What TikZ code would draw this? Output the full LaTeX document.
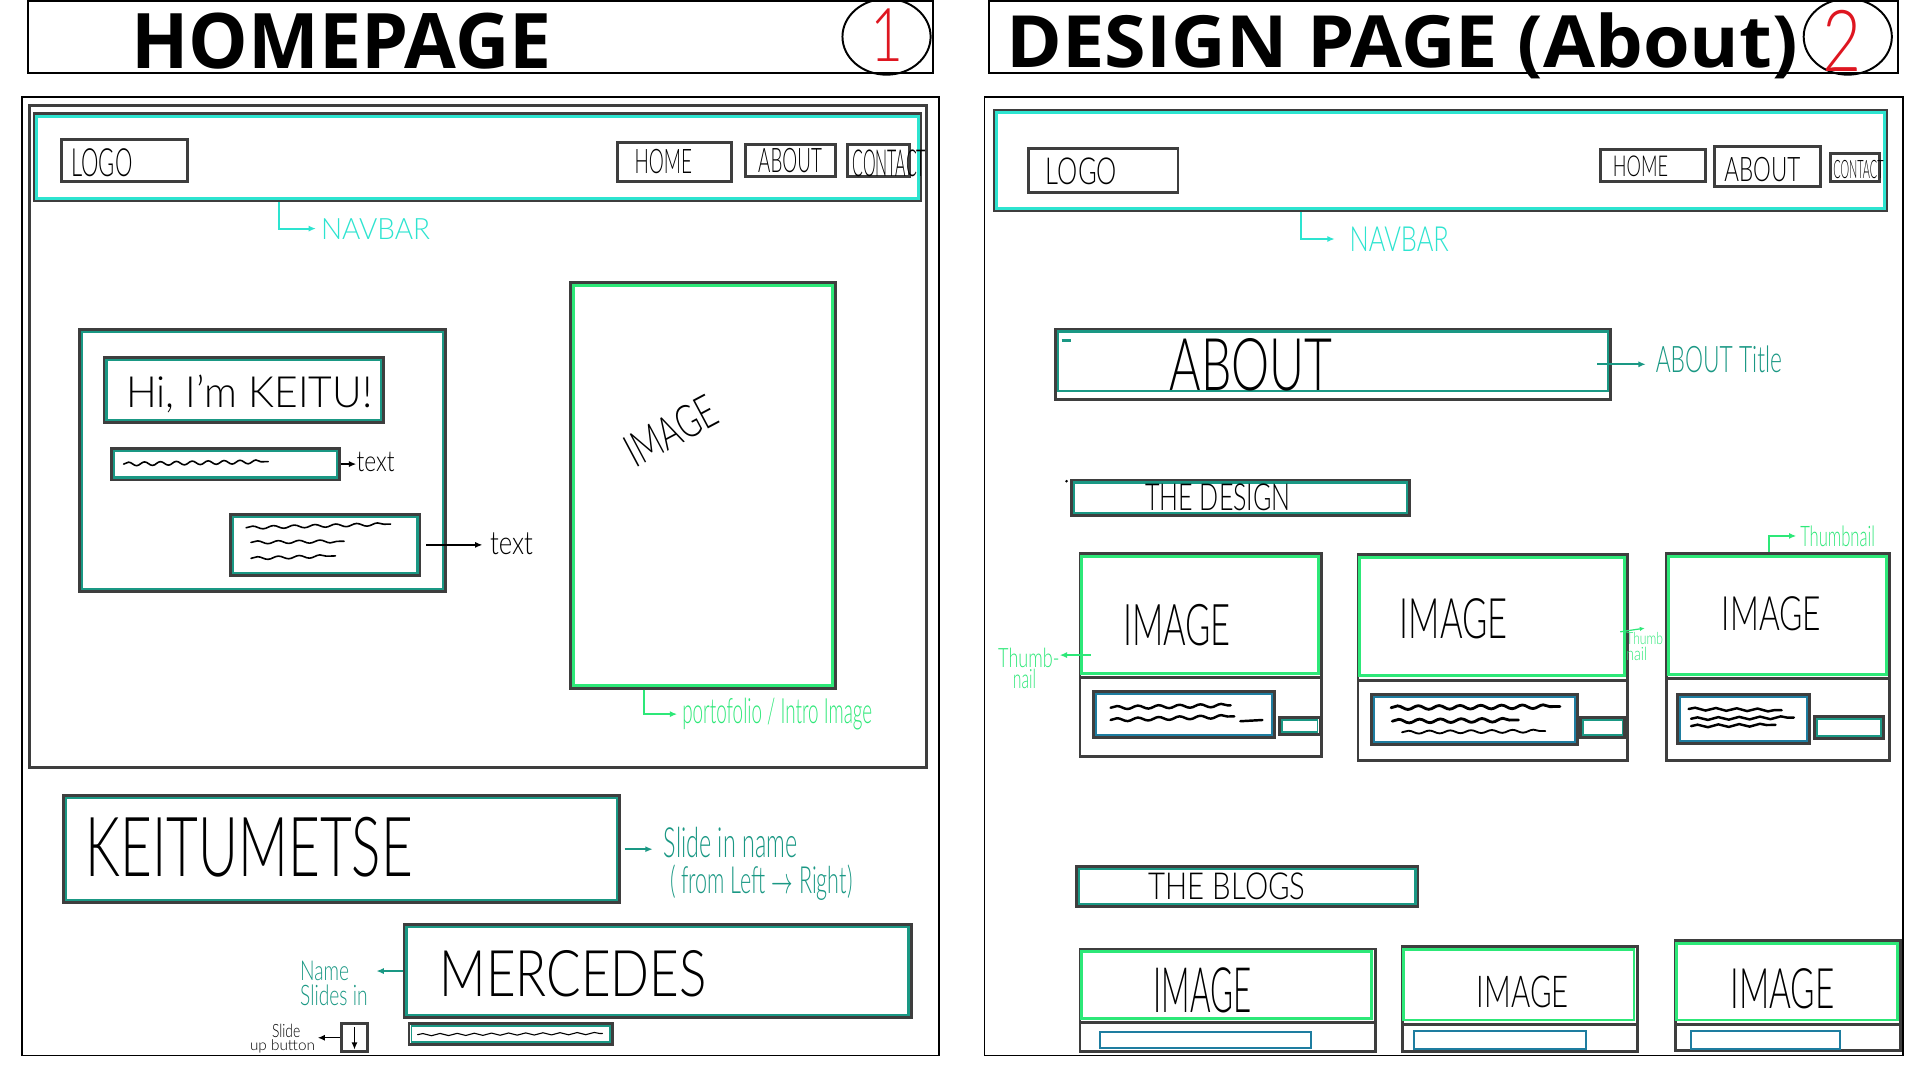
\documentclass[tikz,border=0pt]{standalone}
\usepackage{fontspec}
\usepackage{graphicx}
\usetikzlibrary{fit,shapes.geometric,arrows.meta,decorations.pathmorphing}

\newfontfamily\titlef{Open Sans}
\IfFontExistsTF{Lato Light}{\newfontfamily\hand{Lato Light}}{\newfontfamily\hand{Lato}}

\definecolor{frame}{RGB}{62,62,62}
\definecolor{cyanl}{RGB}{45,228,208}
\definecolor{tealc}{RGB}{26,152,132}
\definecolor{greenc}{RGB}{45,232,120}
\definecolor{bluec}{RGB}{30,125,160}
\definecolor{redc}{RGB}{222,22,32}

% text squeezed into a given width and total height
\newcommand\fitbox[3]{\resizebox*{#1pt}{#2pt}{#3}}
\newcommand\imgword{\hand IMAGE}

\tikzset{
  gbox/.style={draw=frame, line width=2.4pt, inner sep=0pt},
  kbox/.style={draw=black, line width=1.6pt, inner sep=0pt},
  txt/.style={inner sep=0pt, anchor=north west},
  inner line/.style={line width=1.8pt},
  karrow/.style={draw=black, line width=1.5pt, -{Latex[length=6pt,width=5pt]}},
  tarrow/.style={draw=tealc, line width=1.6pt, -{Latex[length=6pt,width=5pt]}},
  carrow/.style={draw=cyanl, line width=1.6pt, -{Latex[length=6pt,width=5pt]}},
  garrow/.style={draw=greenc, line width=1.6pt, -{Latex[length=6pt,width=5pt]}},
  scribble/.style={draw=black, line cap=round, decorate,
    decoration={snake, amplitude=#1pt, segment length=17pt}},
}

% framed box: grey outline with a coloured line just inside
\newcommand\wbox[6]{%
  \node[gbox, fit={(#2,#3)(#4,#5)}] (#1) {};
  \draw[inner line, #6] ([shift={(3.2,3.2)}]#1.north west) rectangle ([shift={(-3.2,-3.2)}]#1.south east);}

% thumbnail card: grey outline, green image area on top, divider below it
\newcommand\thumbcard[6]{%
  \node[gbox, fit={(#2,#3)(#4,#5)}] (#1) {};
  \draw[greenc, line width=2.4pt] ([shift={(2.6,3.6)}]#1.north west) rectangle (#4-2.6,#6);
  \draw[frame, line width=2.4pt] (#2,#6+3.4) -- (#4,#6+3.4);}

\begin{document}
\begin{tikzpicture}[x=1pt,y=-1pt]
\useasboundingbox[fill=white] (0,0) rectangle (1568,882);

%% ---------------- page 1 : homepage ----------------
\node[kbox, fit={(23,1)(762,60)}] (title1) {};
\node[txt] (title1txt) at (107,10) {\fitbox{343}{46}{\titlef\bfseries HOMEPAGE}};
\node[kbox, ellipse, minimum width=72pt, minimum height=62pt] (num1) at (724,30) {};
\node[txt, text=redc] (num1txt) at (711,7) {\fitbox{27}{43}{\hand 1}};

\node[kbox, fit={(18,79)(767,862)}] (page1) {};
\node[gbox, fit={(24,86)(757,627)}] (hero1) {};

% navigation bar
\wbox{nav1}{28}{93}{752}{164}{cyanl, line width=2.4pt}
\node[gbox, fit={(50,114)(153,148)}] (logo1) {};
\node[txt] (logo1txt) at (58,121) {\fitbox{50}{23}{\hand LOGO}};
\node[gbox, fit={(504,116)(597,148)}] (home1) {};
\node[txt] (home1txt) at (518,122) {\fitbox{47}{20}{\hand HOME}};
\node[gbox, fit={(609,118)(682,144)}] (about1) {};
\node[txt] (about1txt) at (619,121) {\fitbox{52}{20}{\hand ABOUT}};
\node[gbox, fit={(692,118)(743,144)}] (contact1) {};
\node[txt] (contact1txt) at (696,122) {\fitbox{60}{22}{\hand CONTACT}};
\node[txt, text=cyanl] (navl1) at (262,178) {\fitbox{89}{17}{\hand NAVBAR}};
\draw[carrow] ([xshift=201pt]nav1.south west) |- ([xshift=-4pt]navl1.west);

% intro block
\wbox{intro}{65}{269}{364}{483}{tealc}
\wbox{hi}{85}{292}{313}{345}{tealc}
\node[txt] (hitxt) at (103,306) {\fitbox{201}{31}{\hand Hi, I’m KEITU!}};
\wbox{bar1}{91}{366}{277}{392}{tealc}
\draw[scribble=1.5, line width=1.3pt, decoration={segment length=13pt}] (101,379) -- (219,377);
\node[txt] (text1) at (291,369) {\fitbox{31}{16}{\hand text}};
\draw[karrow] (bar1.east) -- (bar1.east -| text1.west);
\wbox{para1}{188}{420}{343}{470}{tealc}
\draw[scribble=1.2, line width=1.3pt] (201,431) -- (319,428);
\draw[scribble=1.2, line width=1.3pt] (205,443) -- (281,442);
\draw[scribble=1.2, line width=1.3pt] (205,456) -- (274,454);
\node[txt] (text2) at (400,435) {\fitbox{35}{18}{\hand text}};
\draw[karrow, line width=2pt] ([xshift=4pt]para1.east) -- ([xshift=-6pt]para1.east -| text2.west);

% intro image
\wbox{img1}{466}{231}{682}{562}{greenc, line width=2.4pt}
\node[inner sep=0pt, rotate=28] (img1txt) at (548,352) {\fitbox{80}{27}{\imgword}};
\node[txt, text=greenc] (portf) at (557,570) {\fitbox{155}{26}{\hand portofolio / Intro Image}};
\draw[garrow] ([xshift=61pt]img1.south west) |- ([xshift=-4pt]portf.west);

% sliding names
\wbox{keit}{52}{650}{506}{737}{tealc}
\node[txt] (keittxt) at (70,667) {\fitbox{267}{49}{\hand KEITUMETSE}};
\node[txt, text=tealc] (slideA) at (542,675) {\fitbox{109}{25}{\hand Slide in name}};
\node[txt, text=tealc] (slideB) at (547,706) {\fitbox{149}{29}{\hand ( from Left $\rightarrow$ Right)}};
\draw[tarrow] ([xshift=3pt]keit.east) -- ([xshift=-9pt]keit.east -| slideA.west);

\wbox{merc}{330}{755}{744}{831}{tealc}
\node[txt] (merctxt) at (359,776) {\fitbox{218}{38}{\hand MERCEDES}};
\node[txt, text=tealc] (nameA) at (245,785) {\fitbox{40}{16}{\hand Name}};
\node[txt, text=tealc] (nameB) at (245,804) {\fitbox{55}{17}{\hand Slides in}};
\draw[tarrow] (merc.west) -- ([xshift=7pt]merc.west -| nameB.east);

\wbox{bar2}{334}{836}{500}{853}{tealc, line width=1.4pt}
\draw[scribble=0.9, line width=0.9pt, decoration={segment length=14pt}] (341,845) -- (492,844);

\node[gbox, fit={(279,836)(300,859)}] (upbtn) {};
\draw[karrow, line width=1.2pt] ([yshift=-4pt]upbtn.north) -- ([yshift=3pt]upbtn.south);
\node[txt] (upA) at (222,836) {\fitbox{23}{11}{\hand Slide}};
\node[txt] (upB) at (204,849) {\fitbox{53}{11}{\hand up button}};
\draw[karrow, line width=1.2pt] (upbtn.west) -- ([xshift=2pt]upbtn.west -| upB.east);

%% ---------------- page 2 : design page ----------------
\node[kbox, fit={(808,1)(1550,60)}] (title2) {};
\node[txt] (title2txt) at (822,10) {\fitbox{646}{54}{\titlef\bfseries DESIGN PAGE (About)}};
\node[kbox, ellipse, minimum width=72pt, minimum height=62pt] (num2) at (1509,30) {};
\node[txt, text=redc] (num2txt) at (1488,8) {\fitbox{32}{50}{\hand 2}};

\node[kbox, fit={(804,79)(1554,862)}] (page2) {};

% navigation bar
\wbox{nav2}{812}{90}{1541}{172}{cyanl, line width=2.4pt}
\node[gbox, fit={(840,121)(962,157)}] (logo2) {};
\node[txt] (logo2txt) at (854,129) {\fitbox{58}{22}{\hand LOGO}};
\node[gbox, fit={(1307,122)(1393,148)}] (home2) {};
\node[txt] (home2txt) at (1317,127) {\fitbox{45}{17}{\hand HOME}};
\node[gbox, fit={(1400,120)(1487,152)}] (about2) {};
\node[txt] (about2txt) at (1408,128) {\fitbox{62}{20}{\hand ABOUT}};
\node[gbox, fit={(1495,125)(1535,148)}] (contact2) {};
\node[txt] (contact2txt) at (1497,131) {\fitbox{41}{15}{\hand CONTACT}};
\node[txt, text=cyanl] (navl2) at (1102,185) {\fitbox{81}{20}{\hand NAVBAR}};
\draw[carrow] ([xshift=252pt]nav2.south west) |- ([xshift=-12pt]navl2.west);

% about heading
\node[gbox, fit={(862,269)(1315,326)}] (aboutb) {};
\draw[tealc, inner line] ([shift={(3,3)}]aboutb.north west) rectangle ([shift={(-3,-8)}]aboutb.south east);
\draw[tealc, line width=2pt] (867,278) -- (875,278);
\node[txt] (aboutbtxt) at (955,276) {\fitbox{133}{43}{\hand ABOUT}};
\node[txt, text=tealc] (abtl) at (1352,282) {\fitbox{103}{22}{\hand ABOUT Title}};
\draw[tarrow] ([xshift=-12pt]aboutb.east) -- ([xshift=-8pt]aboutb.east -| abtl.west);

% the design
\wbox{design}{875}{392}{1151}{421}{tealc}
\fill[black] (871,393) circle (1.2pt);
\node[txt] (designtxt) at (935,395) {\fitbox{119}{22}{\hand THE DESIGN}};

\thumbcard{card1}{882}{452}{1079}{618}{550}
\node[txt] (card1txt) at (917,493) {\fitbox{88}{34}{\imgword}};
\wbox{card1t}{893}{565}{1041}{602}{bluec}
\draw[scribble=1.3, line width=2pt] (907,578) -- (1005,576);
\draw[scribble=1.3, line width=2pt] (907,588) -- (1008,585);
\draw[black, line width=2pt, line cap=round] (1013,589) -- (1031,588);
\wbox{card1b}{1045}{586}{1078}{600}{tealc, line width=1.4pt}

\thumbcard{card2}{1109}{453}{1329}{621}{552}
\node[txt] (card2txt) at (1143,489) {\fitbox{88}{33}{\imgword}};
\wbox{card2t}{1120}{567}{1288}{608}{bluec}
\draw[scribble=1.5, line width=2.3pt] (1136,578) -- (1274,577);
\draw[scribble=1.5, line width=2.3pt] (1137,589) -- (1240,588);
\draw[scribble=1.2, line width=1.5pt] (1145,598) -- (1262,597);
\wbox{card2b}{1291}{586}{1327}{602}{tealc, line width=1.4pt}

\thumbcard{card3}{1361}{452}{1543}{621}{551}
\node[txt] (card3txt) at (1406,487) {\fitbox{81}{28}{\imgword}};
\wbox{card3t}{1370}{567}{1478}{607}{bluec}
\draw[scribble=1.1, line width=2pt] (1379,579) -- (1455,580);
\draw[scribble=1.1, line width=2pt] (1381,587) -- (1465,586);
\draw[scribble=1.1, line width=2pt] (1381,593) -- (1450,592);
\wbox{card3b}{1482}{585}{1538}{603}{tealc, line width=1.4pt}

% thumbnail notes
\node[txt, text=greenc] (thumbA) at (815,529) {\fitbox{50}{16}{\hand Thumb-}};
\node[txt, text=greenc] (thumbB) at (827,546) {\fitbox{19}{16}{\hand nail}};
\draw[garrow, line width=1.3pt] ([xshift=10pt]card1.west) -- (card1.west -| thumbA.east);
\node[txt, text=greenc] (thumbC) at (1328,516) {\fitbox{30}{10}{\hand Thumb}};
\node[txt, text=greenc] (thumbD) at (1328,528) {\fitbox{17}{11}{\hand nail}};
\draw[garrow, line width=1pt, -{Latex[length=4pt,width=3.5pt]}] ([shift={(-7,-21)}]card2.east) -- ([yshift=3pt]thumbC.north);
\node[txt, text=greenc] (thumbE) at (1470,429) {\fitbox{61}{17}{\hand Thumbnail}};
\draw[garrow, line width=1.3pt] ([xshift=85pt]card3.north west) |- ([xshift=-3pt]thumbE.west);

% the blogs
\wbox{blogs}{879}{708}{1158}{740}{tealc}
\node[txt] (blogstxt) at (938,713) {\fitbox{128}{22}{\hand THE BLOGS}};

\thumbcard{blog1}{882}{775}{1123}{859}{832}
\node[txt] (blog1txt) at (942,790) {\fitbox{80}{37}{\imgword}};
\node[draw=bluec, line width=1.6pt, inner sep=0pt, fit={(898,843)(1071,856)}] (blog1t) {};

\thumbcard{blog2}{1145}{773}{1337}{859}{833}
\node[txt] (blog2txt) at (1206,797) {\fitbox{75}{26}{\imgword}};
\node[draw=bluec, line width=1.6pt, inner sep=0pt, fit={(1155,842)(1295,857)}] (blog2t) {};

\thumbcard{blog3}{1368}{768}{1552}{858}{833}
\node[txt] (blog3txt) at (1413,791) {\fitbox{85}{33}{\imgword}};
\node[draw=bluec, line width=1.6pt, inner sep=0pt, fit={(1381,842)(1503,857)}] (blog3t) {};

\end{tikzpicture}
\end{document}
